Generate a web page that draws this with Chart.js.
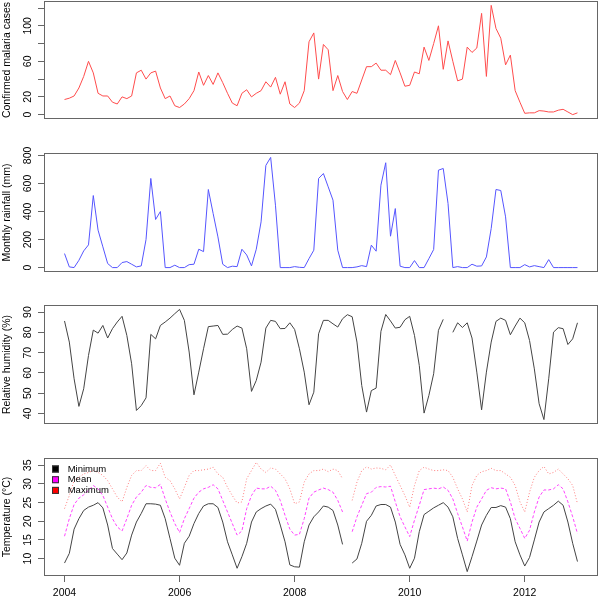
<!DOCTYPE html>
<html lang="en">
<head>
<meta charset="UTF-8">
<title>Malaria cases and climate</title>
<script src="https://cdn.jsdelivr.net/npm/chart.js@4.4.0/dist/chart.umd.min.js"></script>
<style>
  body { margin: 0; background: #fff; }
  .panel { position: absolute; left: 0; width: 600px; }
  canvas { display: block; }
</style>
</head>
<body>
<div class="panel" style="top:0px"><canvas id="c1" width="600" height="140"></canvas></div>
<div class="panel" style="top:140px"><canvas id="c2" width="600" height="150"></canvas></div>
<div class="panel" style="top:290px"><canvas id="c3" width="600" height="150"></canvas></div>
<div class="panel" style="top:440px"><canvas id="c4" width="600" height="159"></canvas></div>
<script>
// monthly series, Jan 2004 .. Dec 2012
var startYear = 2004;
var nMonths = 108;
var months = Array.from({length: nMonths}, function (_, i) { return startYear + i / 12; });

var malaria = [
  17, 18.5, 21, 30, 43, 60, 47, 24, 21, 21, 14, 12,
  20, 18, 21, 47, 50, 40, 47, 49, 30, 18, 21, 10,
  8, 12, 18, 27, 48, 33, 44, 34, 47, 36, 24, 13,
  10, 24, 28, 20, 24, 27, 37, 31, 42, 23, 37, 12,
  8, 13, 27, 82, 92, 40, 79, 73, 27, 44, 26, 17,
  26, 24, 39, 54, 54, 58, 50, 50, 45, 61, 47, 32,
  33, 48, 46, 76, 61, 80, 100, 51, 83, 60, 38, 40,
  76, 70, 75, 114, 43, 123, 97, 86, 56, 67, 27, 14,
  1.5, 2, 2, 4.5, 4, 3, 3, 5, 6, 3, 0, 2
];
var rainfall = [
  100, 5, 0, 52, 119, 162, 514, 267, 148, 29, 0, 0,
  36, 43, 24, 5, 12, 200, 636, 343, 400, 0, 0, 17,
  0, 0, 21, 24, 131, 114, 557, 386, 219, 24, 0, 10,
  7, 131, 90, 12, 131, 326, 729, 786, 445, 0, 0, 0,
  7, 2, 0, 64, 124, 636, 671, 576, 481, 124, 0, 0,
  0, 5, 14, 7, 160, 117, 588, 748, 224, 421, 10, 0,
  0, 50, 0, 0, 64, 129, 695, 707, 457, 0, 7, 0,
  0, 24, 10, 12, 76, 279, 557, 550, 362, 0, 0, 0,
  21, 5, 14, 7, 0, 57, 0, 0, 0, 0, 0, 0
];
var humidity = [
  85.6, 75.2, 57.1, 43.5, 52.2, 68.6, 81.1, 79.6, 83.4, 77.2, 81.8, 85.1,
  87.9, 78.5, 64.5, 41.5, 43.9, 47.7, 79, 76.8, 83.4, 85.1, 87, 89.2,
  91.3, 85.9, 70.3, 49.2, 60.4, 71.9, 82.8, 83.1, 83.4, 79, 79.1, 81.4,
  83.1, 82.1, 71.9, 50.9, 56.3, 65.3, 82.1, 85.9, 85.4, 81.8, 81.9, 84.7,
  81.4, 71.9, 60.4, 44.3, 50.5, 79.3, 85.9, 85.9, 84.2, 82.6, 86.7, 88.7,
  87.7, 75.2, 53.8, 40.7, 51.3, 52.5, 80.5, 88.8, 85.6, 82.1, 82.5, 86.2,
  87.9, 78.5, 63.7, 40.2, 48.9, 59.6, 81, 86.4, null, 80, 84.7, 82.4,
  84.7, 77.2, 60.4, 41.8, 60.4, 75.2, 85.4, 87, 85.9, 78.8, 83.1, 87,
  84.7, 76, 62, 44.8, 37, 57.1, 80.1, 82.3, 81.8, 74, 76.8, 84.7
];
var tempMin = [
  8.8, 11.4, 17.9, 20.7, 22.9, 23.8, 24.3, 25.0, 23.6, 19.0, 12.7, 11.2,
  9.7, 11.5, 16.3, 19.8, 22.1, 24.7, 24.7, 24.6, 24.3, 20.7, 15.4, 10.1,
  8.2, 14.1, 16.0, 19.4, 22.1, 24.1, 24.7, 24.7, 23.7, 19.8, 14.5, 11.0,
  7.4, 10.5, 14.1, 19.8, 22.5, 23.4, 24.1, 24.6, 23.2, 19.0, 14.5, 8.3,
  7.8, 7.7, 14.5, 19.0, 21.2, 22.5, 24.1, 23.8, 22.9, 19.0, 13.8, null,
  8.8, 9.9, 14.1, 20.0, 21.6, 24.1, 24.5, 24.5, 23.8, 19.8, 13.8, 11.0,
  7.4, 10.1, 17.2, 21.8, 22.7, 23.6, 24.3, 25.0, 23.8, 21.2, 15.4, 11.0,
  6.5, 10.5, 14.7, 19.0, 21.6, 23.7, 23.7, 24.2, 23.8, 20.7, 14.5, 11.0,
  8.0, 10.3, 15.0, 19.8, 22.5, 23.4, 24.3, 25.4, 24.3, 19.8, 14.1, 9.2
];
var tempMean = [
  16.0, 20.7, 24.5, 26.2, 27.1, 28.3, 29.6, 28.7, 26.9, 23.8, 20.7, 18.5,
  17.4, 20.7, 24.3, 26.5, 27.8, 29.6, 29.1, 29.0, 29.9, 26.0, 22.5, 19.4,
  17.0, 20.7, 23.4, 26.2, 27.8, 28.7, 29.1, 29.8, 28.7, 25.6, 22.5, 19.4,
  16.3, 17.4, 23.4, 26.9, 28.9, 28.7, 28.7, 29.4, 28.3, 25.6, 21.6, 17.9,
  16.3, 16.5, 20.7, 26.2, 27.8, 28.4, 28.9, 28.5, 27.8, 25.6, 22.5, null,
  17.2, 21.2, 24.3, 27.4, 27.8, 29.1, 29.3, 29.2, 29.4, 25.2, 21.2, 18.5,
  15.9, 20.3, 24.3, 28.5, 28.7, 28.9, 28.7, 29.2, 28.3, 26.0, 22.1, 18.5,
  14.7, 19.8, 23.8, 26.0, 28.3, 29.0, 28.7, 28.9, 28.7, 25.2, 20.7, 18.1,
  15.4, 17.6, 22.5, 26.5, 28.4, 28.4, 28.7, 29.8, 28.7, 25.2, 21.2, 16.7
];
var tempMax = [
  23.4, 26.9, 30.9, 31.8, 32.7, 33.1, 33.6, 33.1, 32.3, 30.9, 28.7, 26.5,
  25.2, 29.1, 32.3, 33.6, 33.6, 34.9, 33.6, 33.6, 35.6, 31.8, 30.9, 28.7,
  26.0, 29.1, 32.3, 33.6, 33.6, 33.8, 34.0, 34.5, 32.7, 31.8, 29.1, 26.9,
  24.9, 25.2, 31.4, 33.6, 35.8, 34.0, 33.1, 34.3, 34.0, 32.7, 31.4, 28.7,
  24.7, 25.2, 30.5, 32.7, 33.6, 33.6, 34.0, 33.3, 34.0, 33.6, 31.4, null,
  25.6, 30.5, 33.6, 34.6, 34.0, 34.3, 34.2, 33.8, 35.1, 32.3, 29.6, 26.9,
  23.8, 29.6, 33.6, 34.5, 34.0, 33.6, 33.6, 33.8, 33.6, 31.8, 28.7, 26.0,
  22.5, 29.6, 32.3, 33.3, 33.6, 34.2, 33.6, 33.6, 32.7, 31.8, 29.6, 25.2,
  22.5, 27.8, 31.8, 33.6, 34.7, 32.7, 33.1, 34.0, 32.7, 31.4, 29.6, 24.7
];

var xTicks = [2004, 2006, 2008, 2010, 2012];
var malariaTicks = [0, 20, 40, 60, 80, 100, 120];
var malariaLabels = [0, 20, 60, 100];
var rainTicks = [0, 200, 400, 600, 800];
var humidTicks = [40, 50, 60, 70, 80, 90];
var tempTicks = [10, 15, 20, 25, 30, 35];

var FAMILY = '"Liberation Sans", Arial, sans-serif';
var FS = 10.5;
var TICK_LEN = 6;
var AXIS_W = 44;
var LABEL_X = 28;   // centre of the rotated y tick labels
Chart.defaults.font.family = FAMILY;
Chart.defaults.font.size = FS;
Chart.defaults.color = '#000';

// R style range: data range stretched by 4% on each side
function rRange(arrs) {
  var vals = [].concat.apply([], arrs).filter(function (v) { return v !== null; });
  var lo = Math.min.apply(null, vals), hi = Math.max.apply(null, vals);
  var d = (hi - lo) * 0.04;
  return [lo - d, hi + d];
}
var xRange = rRange([months]);

function toPoints(arr) {
  return arr.map(function (v, i) { return {x: months[i], y: v}; });
}

// box round the plot, rotated y tick labels and the legend
var boxPlugin = {
  id: 'rbox',
  afterDraw: function (chart, args, opts) {
    var a = chart.chartArea, ctx = chart.ctx;
    ctx.save();
    ctx.strokeStyle = '#666';
    ctx.lineWidth = 1;
    ctx.strokeRect(a.left + 0.5, a.top + 0.5, a.right - a.left - 1, a.bottom - a.top - 1);

    var ys = chart.scales.y;
    ctx.fillStyle = '#000';
    ctx.font = FS + 'px ' + FAMILY;
    ctx.textAlign = 'center';
    ctx.textBaseline = 'middle';
    (opts.yLabels || []).forEach(function (v) {
      ctx.save();
      ctx.translate(LABEL_X, ys.getPixelForValue(v));
      ctx.rotate(-Math.PI / 2);
      ctx.fillText(String(v), 0, 0);
      ctx.restore();
    });

    if (opts.legend) {
      var L = opts.legend;
      ctx.font = L.size + 'px ' + FAMILY;
      ctx.textAlign = 'left';
      chart.data.datasets.forEach(function (ds, k) {
        var cy = a.top + L.top + k * L.step;
        ctx.fillStyle = L.colors[k];
        ctx.fillRect(a.left + L.left, cy - 3.5, 7, 7);
        ctx.strokeStyle = '#333';
        ctx.strokeRect(a.left + L.left + 0.5, cy - 3, 6, 6);
        ctx.fillStyle = '#000';
        ctx.fillText(ds.label, a.left + L.textLeft, cy);
      });
    }
    ctx.restore();
  }
};

function makePanel(id, datasets, yRange, yTicks, yShown, title, showX, pad, legend) {
  return new Chart(document.getElementById(id), {
    type: 'line',
    data: {datasets: datasets},
    plugins: [boxPlugin],
    options: {
      responsive: false,
      animation: false,
      devicePixelRatio: 1,
      layout: {padding: pad},
      elements: {point: {radius: 0}, line: {tension: 0, borderWidth: 1}},
      plugins: {legend: {display: false}, tooltip: {enabled: false},
                rbox: {legend: legend, yLabels: yShown}},
      scales: {
        x: {
          type: 'linear',
          display: showX,
          min: xRange[0],
          max: xRange[1],
          afterBuildTicks: function (s) { s.ticks = xTicks.map(function (v) { return {value: v}; }); },
          afterFit: function (s) { s.height = showX ? 23 : 0; s.paddingLeft = 0; s.paddingRight = 0; },
          grid: {drawOnChartArea: false, tickLength: TICK_LEN, color: '#666'},
          border: {display: false},
          ticks: {padding: 5, maxRotation: 0, autoSkip: false, callback: function (v) { return String(v); }}
        },
        y: {
          type: 'linear',
          min: yRange[0],
          max: yRange[1],
          afterBuildTicks: function (s) { s.ticks = yTicks.map(function (v) { return {value: v}; }); },
          afterFit: function (s) { s.width = AXIS_W; s.paddingTop = 0; s.paddingBottom = 0; },
          grid: {drawOnChartArea: false, tickLength: TICK_LEN, color: '#666'},
          border: {display: false},
          ticks: {display: false, autoSkip: false},
          title: {display: true, text: title, padding: {top: 1, bottom: 0}}
        }
      }
    }
  });
}

makePanel('c1', [{
  label: 'Confirmed malaria cases', data: toPoints(malaria), borderColor: '#ff4c4c'
}], rRange([malaria]), malariaTicks, malariaLabels, 'Confirmed malaria cases', false,
  {top: 1, bottom: 21, left: 0, right: 2});

makePanel('c2', [{
  label: 'Monthly rainfall (mm)', data: toPoints(rainfall), borderColor: '#5555ff'
}], rRange([rainfall]), rainTicks, rainTicks, 'Monthly rainfall (mm)', false,
  {top: 13, bottom: 18, left: 0, right: 2});

makePanel('c3', [{
  label: 'Relative humidity (%)', data: toPoints(humidity), borderColor: '#444', spanGaps: false
}], rRange([humidity]), humidTicks, humidTicks, 'Relative humidity (%)', false,
  {top: 15, bottom: 16, left: 0, right: 2});

makePanel('c4', [
  {label: 'Minimum', data: toPoints(tempMin), borderColor: '#444', spanGaps: false},
  {label: 'Mean', data: toPoints(tempMean), borderColor: '#ff44ff', borderDash: [3, 2], spanGaps: false},
  {label: 'Maximum', data: toPoints(tempMax), borderColor: '#ff7f7f', borderDash: [1, 2], spanGaps: false}
], rRange([tempMin, tempMean, tempMax]), tempTicks, tempTicks, 'Temperature (\u00B0C)', true,
  {top: 18, bottom: 0, left: 0, right: 2},
  {colors: ['#000000', '#ff00ff', '#ff0000'], size: 9.5, top: 11, step: 10.7, left: 8, textLeft: 23.7});
</script>
</body>
</html>
